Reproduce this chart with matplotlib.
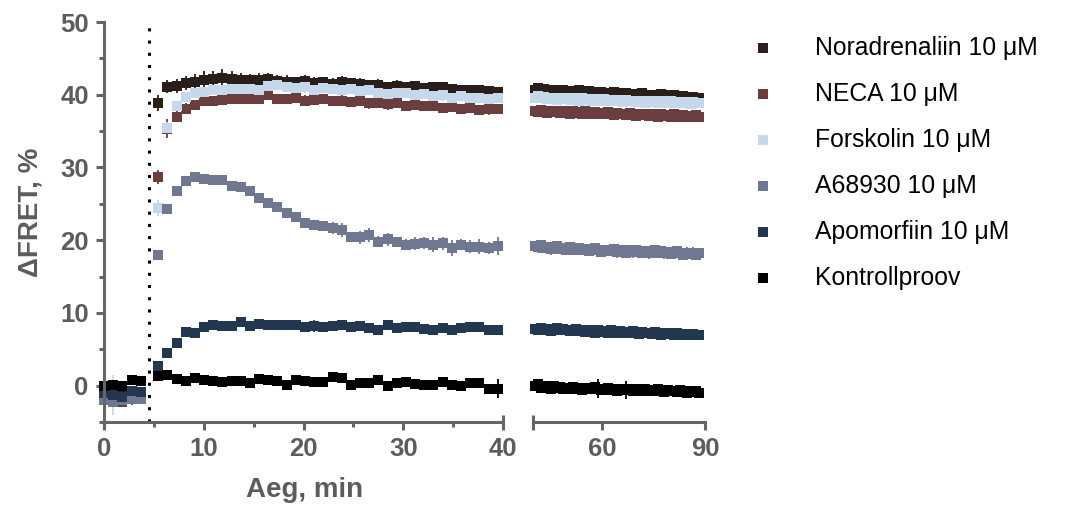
import numpy as np
import matplotlib.pyplot as plt
from matplotlib.lines import Line2D

plt.rcParams['font.family'] = ['Liberation Sans', 'DejaVu Sans']

# Mõõtmise ajad (min): üks kaader iga 0.92 min järel, lisamise ajal paus
aeg_baas = np.round(np.arange(5) * 0.92, 2)
aeg_vara = np.round(5.43 + np.arange(38) * 0.92, 2)
aeg_hilis = np.round(40.5 + np.arange(53) * 0.92, 2)

# --- Noradrenaliin 10 uM ---
nor_vasak = [-1.2, -1.0, -1.3, -0.8, -1.0,
             38.9, 41.1, 41.2, 41.6, 41.8, 42.0, 42.1, 42.3, 42.1, 42.0,
             42.0, 42.0, 42.1, 41.9, 41.8, 41.7, 41.9, 41.6, 41.7, 41.5,
             41.8, 41.6, 41.5, 41.3, 41.4, 41.1, 41.2, 41.0, 41.2, 40.9,
             41.0, 41.1, 40.8, 40.6, 40.7, 40.6, 40.5, 40.4]
nor_vasak_sem = [0.7, 0.6, 0.8, 0.6, 0.7,
                 1.1, 0.9, 1.0, 1.0, 1.1, 1.2, 1.1, 1.2, 1.1, 1.0,
                 0.9, 1.0, 0.9, 0.8, 0.9, 0.7, 0.8, 0.9, 0.7, 0.8,
                 0.8, 0.7, 0.8, 0.7, 0.8, 0.7, 0.8, 0.6, 0.7, 0.7,
                 0.8, 0.6, 0.7, 0.6, 0.7, 0.6, 0.7, 0.6]
nor_parem = [40.7, 40.9, 40.6, 40.8, 40.7, 40.5, 40.6, 40.7, 40.4, 40.6,
             40.5, 40.3, 40.5, 40.4, 40.6, 40.3, 40.4, 40.5, 40.2, 40.4,
             40.3, 40.4, 40.1, 40.3, 40.2, 40.4, 40.1, 40.2, 40.0, 40.2,
             40.1, 39.9, 40.1, 40.0, 40.2, 39.9, 40.0, 39.8, 40.0, 39.9,
             40.1, 39.8, 39.9, 39.7, 39.9, 39.8, 39.6, 39.8, 39.7, 39.6,
             39.7, 39.5, 39.6]
nor_parem_sem = [0.6, 0.5, 0.7, 0.5, 0.6, 0.4, 0.6, 0.5, 0.7, 0.5,
                 0.6, 0.5, 0.4, 0.6, 0.5, 0.7, 0.5, 0.6, 0.4, 0.5,
                 0.6, 0.5, 0.7, 0.5, 0.4, 0.6, 0.5, 0.6, 0.4, 0.5,
                 0.7, 0.5, 0.6, 0.4, 0.5, 0.6, 0.5, 0.4, 0.6, 0.5,
                 0.7, 0.5, 0.6, 0.4, 0.5, 0.6, 0.5, 0.4, 0.6, 0.5,
                 0.5, 0.6, 0.4]

# --- NECA 10 uM ---
neca_vasak = [-1.8, -2.0, -2.3, -1.9, -1.7,
              28.7, 35.3, 37.0, 38.1, 38.6, 39.1, 39.2, 39.3, 39.4, 39.4,
              39.4, 39.4, 40.0, 39.4, 39.4, 39.5, 39.2, 39.3, 39.4, 39.1,
              39.2, 39.0, 39.1, 38.8, 38.9, 38.7, 38.8, 38.5, 38.6, 38.4,
              38.5, 38.2, 38.3, 38.1, 38.2, 37.9, 38.0, 38.0]
neca_vasak_sem = [0.8, 0.7, 0.6, 0.7, 0.8,
                  1.0, 1.3, 0.8, 0.7, 0.6, 0.5, 0.6, 0.5, 0.6, 0.5,
                  0.6, 0.5, 0.6, 0.7, 0.6, 0.5, 0.7, 0.6, 0.5, 0.6,
                  0.7, 0.6, 0.5, 0.7, 0.6, 0.8, 0.6, 0.7, 0.6, 0.5,
                  0.7, 0.6, 0.5, 0.6, 0.7, 0.6, 0.8, 0.6]
neca_parem = [37.8, 37.6, 37.9, 37.7, 37.5, 37.8, 37.6, 37.7, 37.5, 37.8,
              37.6, 37.4, 37.7, 37.5, 37.6, 37.4, 37.7, 37.5, 37.3, 37.6,
              37.4, 37.5, 37.3, 37.6, 37.4, 37.2, 37.5, 37.3, 37.4, 37.2,
              37.5, 37.3, 37.1, 37.4, 37.2, 37.3, 37.1, 37.4, 37.2, 37.0,
              37.3, 37.1, 37.2, 37.0, 37.3, 37.1, 36.9, 37.2, 37.0, 37.1,
              36.9, 37.2, 37.0]
neca_parem_sem = [0.6, 0.5, 0.7, 0.6, 0.5, 0.6, 0.7, 0.5, 0.6, 0.5,
                  0.7, 0.6, 0.5, 0.6, 0.7, 0.5, 0.6, 0.5, 0.7, 0.6,
                  0.5, 0.6, 0.7, 0.5, 0.6, 0.5, 0.7, 0.6, 0.5, 0.6,
                  0.7, 0.5, 0.6, 0.5, 0.7, 0.6, 0.5, 0.6, 0.7, 0.5,
                  0.6, 0.5, 0.7, 0.6, 0.5, 0.6, 0.7, 0.5, 0.6, 0.5,
                  0.7, 0.6, 0.5]

# --- Forskolin 10 uM ---
forsk_vasak = [-1.5, -1.3, -1.8, -1.6, -1.5,
               24.4, 35.4, 38.4, 39.7, 40.2, 40.4, 40.6, 40.7, 40.8, 40.8,
               40.8, 40.7, 41.2, 41.3, 41.0, 40.9, 41.0, 40.7, 40.9, 40.8,
               40.6, 40.8, 40.5, 40.6, 40.3, 40.1, 40.3, 40.2, 40.0, 40.1,
               39.8, 39.9, 39.6, 39.8, 39.6, 39.5, 39.4, 39.5]
forsk_vasak_sem = [0.6, 2.8, 0.7, 0.6, 0.7,
                   1.1, 0.8, 0.6, 0.5, 0.6, 0.5, 0.4, 0.5, 0.6, 0.5,
                   0.4, 0.5, 0.6, 0.5, 0.6, 0.5, 0.7, 0.5, 0.6, 0.5,
                   0.6, 0.7, 0.5, 0.6, 0.8, 0.6, 0.5, 0.7, 0.6, 0.5,
                   0.6, 0.7, 0.5, 0.6, 0.7, 0.5, 0.6, 0.5]
forsk_parem = [39.6, 39.8, 39.5, 39.7, 39.4, 39.6, 39.5, 39.3, 39.6, 39.4,
               39.5, 39.3, 39.6, 39.4, 39.2, 39.5, 39.3, 39.4, 39.2, 39.4,
               39.3, 39.1, 39.4, 39.2, 39.3, 39.1, 39.3, 39.2, 39.0, 39.3,
               39.1, 39.2, 39.0, 39.2, 39.1, 38.9, 39.2, 39.0, 39.1, 38.9,
               39.1, 39.0, 38.8, 39.1, 38.9, 39.0, 38.8, 39.0, 38.9, 38.7,
               39.0, 38.8, 38.9]
forsk_parem_sem = [0.5, 0.6, 0.5, 0.7, 0.5, 0.6, 0.5, 0.6, 0.7, 0.5,
                   0.6, 0.5, 0.6, 0.5, 0.7, 0.6, 0.5, 0.6, 0.5, 0.7,
                   0.5, 0.6, 0.5, 0.6, 0.7, 0.5, 0.6, 0.5, 0.6, 0.5,
                   0.7, 0.6, 0.5, 0.6, 0.5, 0.7, 0.5, 0.6, 0.5, 0.6,
                   0.7, 0.5, 0.6, 0.5, 0.6, 0.5, 0.7, 0.6, 0.5, 0.6,
                   0.5, 0.7, 0.5]

# --- A68930 10 uM ---
a68_vasak = [-2.0, -2.2, -2.0, -1.8, -1.9,
             17.9, 24.3, 26.7, 28.1, 28.7, 28.4, 28.3, 28.3, 27.5, 27.3,
             26.8, 25.8, 25.1, 24.6, 23.7, 23.2, 22.4, 22.1, 21.9, 21.7,
             21.4, 20.4, 20.4, 20.7, 19.8, 20.1, 19.7, 19.4, 19.5, 19.6,
             19.4, 19.6, 18.9, 19.4, 19.1, 19.1, 18.9, 19.2]
a68_vasak_sem = [0.5, 0.6, 0.5, 0.6, 0.5,
                 0.4, 0.3, 0.4, 0.5, 0.4, 0.3, 0.4, 0.3, 0.4, 0.5,
                 0.4, 0.5, 0.6, 0.5, 0.6, 0.5, 0.6, 0.5, 0.6, 0.8,
                 0.9, 0.7, 0.9, 1.0, 0.8, 0.9, 0.7, 0.8, 0.9, 0.8,
                 1.0, 0.9, 1.1, 0.8, 0.9, 1.0, 0.8, 1.2]
a68_parem = [19.2, 19.0, 19.3, 18.9, 19.1, 18.8, 19.0, 19.2, 18.8, 18.9,
             18.7, 19.0, 18.8, 18.6, 18.9, 18.7, 18.8, 18.5, 18.7, 18.9,
             18.6, 18.4, 18.7, 18.5, 18.6, 18.8, 18.4, 18.6, 18.5, 18.3,
             18.6, 18.4, 18.7, 18.5, 18.3, 18.5, 18.2, 18.4, 18.6, 18.3,
             18.5, 18.2, 18.4, 18.1, 18.3, 18.5, 18.2, 18.0, 18.3, 18.1,
             18.2, 18.0, 18.2]
a68_parem_sem = [0.6, 0.8, 0.5, 0.7, 0.6, 0.8, 0.5, 0.7, 0.6, 0.5,
                 0.8, 0.6, 0.7, 0.5, 0.6, 0.8, 0.6, 0.5, 0.7, 0.6,
                 0.8, 0.5, 0.6, 0.7, 0.5, 0.6, 0.8, 0.6, 0.7, 0.5,
                 0.6, 0.8, 0.5, 0.7, 0.6, 0.5, 0.8, 0.6, 0.7, 0.5,
                 0.6, 0.8, 0.6, 0.7, 0.5, 0.6, 0.8, 0.5, 0.7, 0.6,
                 0.8, 0.6, 0.7]

# --- Apomorfiin 10 uM ---
apo_vasak = [-1.0, -1.3, -1.5, -0.8, -0.9,
             2.7, 4.5, 5.9, 7.4, 7.2, 8.0, 8.3, 8.2, 8.2, 8.7,
             8.2, 8.5, 8.3, 8.3, 8.3, 8.3, 8.1, 8.2, 8.1, 8.2,
             8.3, 8.0, 8.2, 7.9, 7.7, 8.4, 7.9, 8.0, 8.1, 7.8,
             7.7, 7.9, 7.7, 7.9, 8.0, 8.0, 7.7, 7.6]
apo_vasak_sem = [0.4, 0.5, 0.4, 0.5, 0.4,
                 0.3, 0.3, 0.3, 0.4, 0.3, 0.3, 0.4, 0.3, 0.3, 0.4,
                 0.3, 0.4, 0.3, 0.3, 0.4, 0.3, 0.3, 0.8, 0.3, 0.4,
                 0.3, 0.4, 0.3, 0.4, 0.3, 0.5, 0.4, 0.3, 0.4, 0.3,
                 0.7, 0.4, 0.3, 0.4, 0.3, 0.4, 0.3, 0.4]
apo_parem = [7.8, 7.6, 7.9, 7.7, 7.8, 7.5, 7.7, 7.9, 7.6, 7.8,
             7.7, 7.5, 7.6, 7.8, 7.5, 7.7, 7.4, 7.6, 7.5, 7.3,
             7.6, 7.4, 7.5, 7.3, 7.6, 7.4, 7.2, 7.5, 7.3, 7.4,
             7.2, 7.5, 7.3, 7.1, 7.4, 7.2, 7.3, 7.1, 7.4, 7.2,
             7.0, 7.3, 7.1, 7.2, 7.0, 7.2, 6.9, 7.1, 7.0, 6.9,
             7.1, 6.9, 7.0]
apo_parem_sem = [0.3, 0.4, 0.3, 0.3, 0.4, 0.3, 0.4, 0.3, 0.3, 0.4,
                 0.3, 0.3, 0.4, 0.3, 0.4, 0.3, 0.3, 0.4, 0.3, 0.3,
                 0.4, 0.3, 0.3, 0.4, 0.3, 0.4, 0.3, 0.3, 0.4, 0.3,
                 0.3, 0.4, 0.3, 0.4, 0.3, 0.3, 0.4, 0.3, 0.3, 0.4,
                 0.3, 0.4, 0.3, 0.3, 0.4, 0.3, 0.3, 0.4, 0.3, 0.4,
                 0.3, 0.3, 0.4]

# --- Kontrollproov ---
kontroll_vasak = [0.0, 0.1, 0.0, 0.8, 0.6,
                  1.3, 1.5, 0.9, 0.7, 1.1, 0.8, 0.7, 0.5, 0.6, 0.7,
                  0.3, 0.9, 0.8, 0.6, 0.1, 0.8, 0.6, 0.5, 0.5, 1.2,
                  1.0, 0.1, 0.4, 0.3, 0.8, -0.1, 0.4, 0.5, 0.2, 0.1,
                  0.1, 0.5, 0.1, -0.1, 0.3, 0.3, -0.5, -0.4]
kontroll_vasak_sem = [0.4, 0.5, 0.4, 0.5, 0.4,
                      0.3, 0.4, 0.3, 0.3, 0.4, 0.3, 0.3, 0.4, 0.3, 0.3,
                      0.4, 0.3, 0.3, 0.4, 0.3, 0.3, 0.4, 0.3, 0.3, 0.4,
                      0.3, 0.3, 0.4, 0.3, 0.3, 0.4, 0.3, 0.3, 0.4, 0.3,
                      0.3, 0.4, 0.3, 0.3, 0.4, 0.3, 0.4, 1.3]
kontroll_parem = [-0.1, 0.2, -0.3, 0.0, -0.2, -0.4, -0.1, -0.3, -0.2, -0.5,
                  -0.3, -0.4, -0.2, -0.5, -0.3, -0.6, -0.4, -0.3, -0.5, -0.2,
                  -0.4, -0.6, -0.5, -0.3, -0.6, -0.4, -0.7, -0.5, -0.4, -0.6,
                  -0.5, -0.7, -0.4, -0.6, -0.8, -0.5, -0.7, -0.6, -0.8, -0.5,
                  -0.7, -0.9, -0.6, -0.8, -0.7, -0.9, -0.6, -0.8, -1.0, -0.7,
                  -0.9, -0.8, -1.0]
kontroll_parem_sem = [0.3, 0.4, 0.3, 0.3, 0.4, 0.3, 0.4, 0.3, 0.3, 0.4,
                      0.3, 0.3, 0.4, 0.3, 0.4, 0.3, 0.3, 0.4, 0.3, 0.3,
                      1.3, 0.3, 0.3, 0.4, 0.3, 0.4, 0.3, 0.3, 0.4, 1.2,
                      0.3, 0.4, 0.3, 0.4, 0.3, 0.3, 0.4, 0.3, 0.3, 0.4,
                      0.3, 0.4, 0.3, 0.3, 0.4, 0.3, 0.3, 0.4, 0.3, 0.4,
                      0.3, 0.3, 0.4]

nimed = ['Noradrenaliin 10 \u03bcM', 'NECA 10 \u03bcM', 'Forskolin 10 \u03bcM',
         'A68930 10 \u03bcM', 'Apomorfiin 10 \u03bcM', 'Kontrollproov']
varvid = ['#2a1e1b', '#6a3e3e', '#c6d9ec', '#6f7890', '#233750', '#000000']

seeriad = [
    (nor_vasak, nor_vasak_sem, nor_parem, nor_parem_sem),
    (neca_vasak, neca_vasak_sem, neca_parem, neca_parem_sem),
    (forsk_vasak, forsk_vasak_sem, forsk_parem, forsk_parem_sem),
    (a68_vasak, a68_vasak_sem, a68_parem, a68_parem_sem),
    (apo_vasak, apo_vasak_sem, apo_parem, apo_parem_sem),
    (kontroll_vasak, kontroll_vasak_sem, kontroll_parem, kontroll_parem_sem),
]

HALL = '#666666'
TEKST = '#5c5c5c'
W, H = 1075, 516


def seadista_telg(ax, vasak_telg):
    """Prism-laadne telgede stiil: paksud hallid jooned, ülemine ja parem ära."""
    ax.spines['top'].set_visible(False)
    ax.spines['right'].set_visible(False)
    ax.spines['left'].set_visible(vasak_telg)
    for s in ('left', 'bottom'):
        ax.spines[s].set_color(HALL)
        ax.spines[s].set_linewidth(2.2)
    ax.tick_params(which='major', length=6, width=2.2, color=HALL,
                   labelsize=18.5, labelcolor=TEKST, pad=5)
    ax.tick_params(which='minor', length=3.5, width=2.2, color=HALL)
    for lbl in ax.get_xticklabels() + ax.get_yticklabels():
        lbl.set_fontweight('bold')
    ax.set_ylim(-5, 50)
    ax.set_facecolor('none')


def main():
    fig = plt.figure(figsize=(W / 100, H / 100), dpi=100)
    ax1 = fig.add_axes([104 / W, 94 / H, 399 / W, 400 / H])
    ax2 = fig.add_axes([533 / W, 94 / H, 172 / W, 400 / H])

    aeg_vasak = np.concatenate([aeg_baas, aeg_vara])
    stiil = dict(fmt='s', ms=7, mew=0, elinewidth=1.3, capsize=3.3,
                 capthick=1.3, clip_on=False)
    for (yv, ev, yp, ep), c in zip(seeriad, varvid):
        ax1.errorbar(aeg_vasak, yv, yerr=ev, color=c, ecolor=c, **stiil)
        ax2.errorbar(aeg_hilis, yp, yerr=ep, color=c, ecolor=c, **stiil)

    # ainete lisamise hetk
    ax1.axvline(4.5, color='black', lw=2.2, linestyle=(0, (1, 3)), zorder=1)

    ax1.set_xlim(0, 40)
    ax1.set_xticks([0, 10, 20, 30, 40])
    ax1.set_xticks([5, 15, 25, 35], minor=True)
    ax1.set_yticks([0, 10, 20, 30, 40, 50])
    ax1.set_yticks([-5, 5, 15, 25, 35, 45], minor=True)

    ax2.set_xlim(40, 90)
    ax2.set_xticks([40, 60, 90])
    ax2.set_xticklabels(['', '60', '90'])
    ax2.set_yticks([])

    seadista_telg(ax1, True)
    seadista_telg(ax2, False)

    # telje katkestuse märgid
    for ax in (ax1, ax2):
        ax.plot([40, 40], [0, 0.017], transform=ax.get_xaxis_transform(),
                color=HALL, lw=2.2, clip_on=False, solid_capstyle='butt')

    fig.text(30 / W, 1 - 212 / H, '\u0394FRET, %', rotation=90, ha='center',
             va='center', fontsize=20, fontweight='bold', color=TEKST)
    fig.text(305 / W, 1 - 490 / H, 'Aeg, min', ha='center', va='center',
             fontsize=20, fontweight='bold', color=TEKST)

    # legend paremal
    for i, (nimi, c) in enumerate(zip(nimed, varvid)):
        y = 1 - (48 + 46 * i) / H
        fig.add_artist(Line2D([763 / W], [y], marker='s', ms=6.5, mew=0,
                              color=c, transform=fig.transFigure))
        fig.text(815 / W, y, nimi, ha='left', va='center', fontsize=17.8,
                 color='black')

    fig.savefig('out.png', dpi=100)
    plt.close(fig)


if __name__ == '__main__':
    main()
